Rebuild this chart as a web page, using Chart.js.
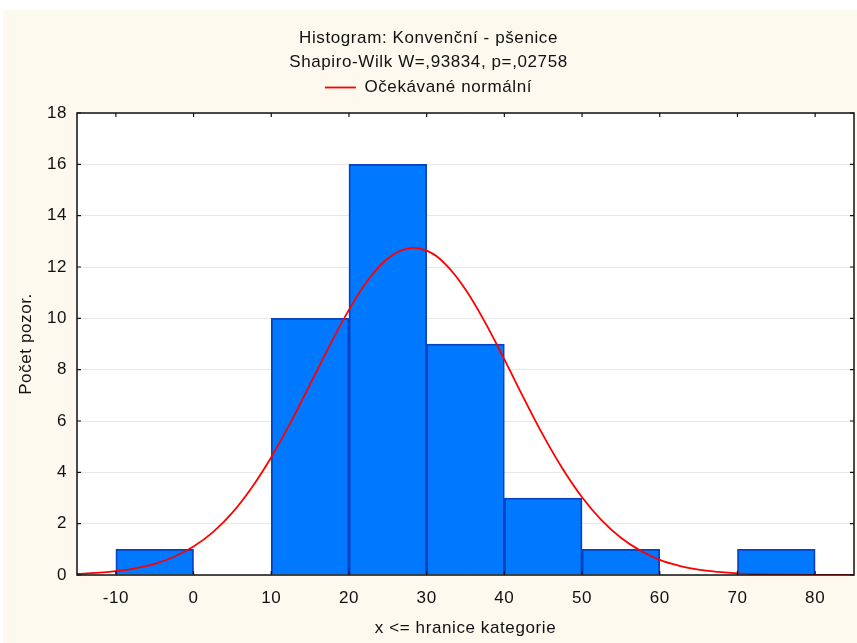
<!DOCTYPE html>
<html>
<head>
<meta charset="utf-8">
<script src="https://cdn.jsdelivr.net/npm/chart.js@4/dist/chart.umd.min.js"></script>
<style>
  html, body { margin: 0; padding: 0; background: #fff; }
  #panel { position: absolute; left: 3px; top: 10px; width: 854px; height: 633px; background: #fdf9ef; }
  canvas { display: block; }
</style>
</head>
<body>
<div id="panel"><canvas id="histCanvas" width="854" height="633"></canvas></div>
<script>
// hranice tříd a četnosti
const binLow = [-10, 0, 10, 20, 30, 40, 50, 60, 70];
const binHigh = [0, 10, 20, 30, 40, 50, 60, 70, 80];
const counts = [1, 0, 10, 16, 9, 3, 1, 0, 1];

// očekávaná normální křivka
const curveX = [-15, -12.5, -10, -7.5, -5, -2.5, 0, 2.5, 5, 7.5, 10, 12.5, 15, 17.5, 20, 22.5, 25, 27.5, 30,
  32.5, 35, 37.5, 40, 42.5, 45, 47.5, 50, 52.5, 55, 57.5, 60, 62.5, 65, 67.5, 70, 72.5, 75, 77.5, 80, 82.5, 85];
const curveY = [0.04, 0.08, 0.15, 0.26, 0.43, 0.71, 1.11, 1.67, 2.43, 3.41, 4.59, 5.95, 7.43, 8.93, 10.33, 11.51, 12.33, 12.72, 12.64,
  12.08, 11.12, 9.85, 8.40, 6.89, 5.44, 4.14, 3.03, 2.14, 1.45, 0.95, 0.59, 0.36, 0.21, 0.12, 0.06, 0.03, 0.02, 0.01, 0.00, 0.00, 0.00];

const xTicks = [-10, 0, 10, 20, 30, 40, 50, 60, 70, 80];
const yTicks = [0, 2, 4, 6, 8, 10, 12, 14, 16, 18];

const titleLines = ['Histogram: Konvenční - pšenice', 'Shapiro-Wilk W=,93834, p=,02758'];
const curveLabel = 'Očekávané normální';
const xTitle = 'x <= hranice kategorie';
const yTitle = 'Počet pozor.';

const FONT = 'Liberation Sans';
const FSIZE = 17;

const barPoints = [];
binLow.forEach((lo, i) => {
  if (counts[i] > 0) barPoints.push({ x: (lo + binHigh[i]) / 2, y: counts[i] });
});
const curvePoints = curveX.map((x, i) => ({ x: x, y: curveY[i] }));

// bílá plocha grafu, rámeček a vnitřní značky
const framePlugin = {
  id: 'frame',
  beforeInit(chart) {
    const origFit = chart.legend.fit;
    chart.legend.fit = function () {
      origFit.call(this);
      this.height += 7;
    };
  },
  beforeLayout(chart) {
    chart.ctx.letterSpacing = '0.6px';
  },
  beforeDraw(chart) {
    const a = chart.chartArea, ctx = chart.ctx;
    ctx.letterSpacing = '0.6px';
    ctx.save();
    ctx.fillStyle = '#fff';
    ctx.fillRect(a.left, a.top, a.right - a.left, a.bottom - a.top);
    ctx.restore();
  },
  afterDraw(chart) {
    const a = chart.chartArea, ctx = chart.ctx;
    const xs = chart.scales.x, ys = chart.scales.y;
    ctx.save();
    ctx.strokeStyle = '#111';
    ctx.lineWidth = 1.5;
    ctx.strokeRect(a.left, a.top, a.right - a.left, a.bottom - a.top);
    ctx.lineWidth = 1.2;
    ctx.beginPath();
    xs.ticks.forEach(t => {
      const px = xs.getPixelForValue(t.value);
      ctx.moveTo(px, a.top); ctx.lineTo(px, a.top + 4);
      ctx.moveTo(px, a.bottom); ctx.lineTo(px, a.bottom - 4);
    });
    ys.ticks.forEach(t => {
      const py = ys.getPixelForValue(t.value);
      ctx.moveTo(a.left, py); ctx.lineTo(a.left + 4, py);
      ctx.moveTo(a.right, py); ctx.lineTo(a.right - 4, py);
    });
    ctx.stroke();
    ctx.restore();
  }
};

const ctx = document.getElementById('histCanvas').getContext('2d');
new Chart(ctx, {
  type: 'bar',
  data: {
    datasets: [
      {
        type: 'line',
        label: curveLabel,
        data: curvePoints,
        borderColor: '#ff0000',
        borderWidth: 1.8,
        pointRadius: 0,
        tension: 0.4,
        fill: false,
        order: 0
      },
      {
        type: 'bar',
        label: 'Četnost',
        data: barPoints,
        backgroundColor: '#0078ff',
        borderColor: '#0842c0',
        borderWidth: 1.8,
        barPercentage: 1,
        categoryPercentage: 1,
        order: 1
      }
    ]
  },
  options: {
    responsive: false,
    animation: false,
    layout: { padding: { left: 0, right: 3, top: 0, bottom: 0 } },
    plugins: {
      title: {
        display: true,
        text: titleLines,
        color: '#111',
        font: { family: FONT, size: FSIZE, weight: 'normal', lineHeight: 24 / FSIZE },
        padding: { top: 16, bottom: 0 }
      },
      legend: {
        display: true,
        position: 'top',
        labels: {
          filter: item => item.datasetIndex === 0,
          usePointStyle: true,
          pointStyle: 'line',
          pointStyleWidth: 31,
          color: '#111',
          padding: 5,
          font: { family: FONT, size: FSIZE }
        }
      },
      tooltip: { enabled: false }
    },
    scales: {
      x: {
        type: 'linear',
        min: -15,
        max: 85,
        offset: false,
        afterBuildTicks: axis => { axis.ticks = xTicks.map(v => ({ value: v })); },
        afterFit: scale => { scale.height = 68; },
        grid: { display: false, drawTicks: false, offset: false },
        border: { display: false },
        ticks: { color: '#111', padding: 13, font: { family: FONT, size: FSIZE } },
        title: { display: true, text: xTitle, color: '#111', padding: { top: 14 }, font: { family: FONT, size: FSIZE } }
      },
      y: {
        min: 0,
        max: 18,
        afterBuildTicks: axis => { axis.ticks = yTicks.map(v => ({ value: v })); },
        afterFit: scale => { scale.width = 74; },
        grid: { color: '#e8e8e8', lineWidth: 1, drawTicks: false },
        border: { display: false },
        ticks: { color: '#111', padding: 10, font: { family: FONT, size: FSIZE } },
        title: { display: true, text: yTitle, color: '#111', padding: { top: 13, bottom: 0 }, font: { family: FONT, size: FSIZE } }
      }
    }
  },
  plugins: [framePlugin]
});
</script>
</body>
</html>
